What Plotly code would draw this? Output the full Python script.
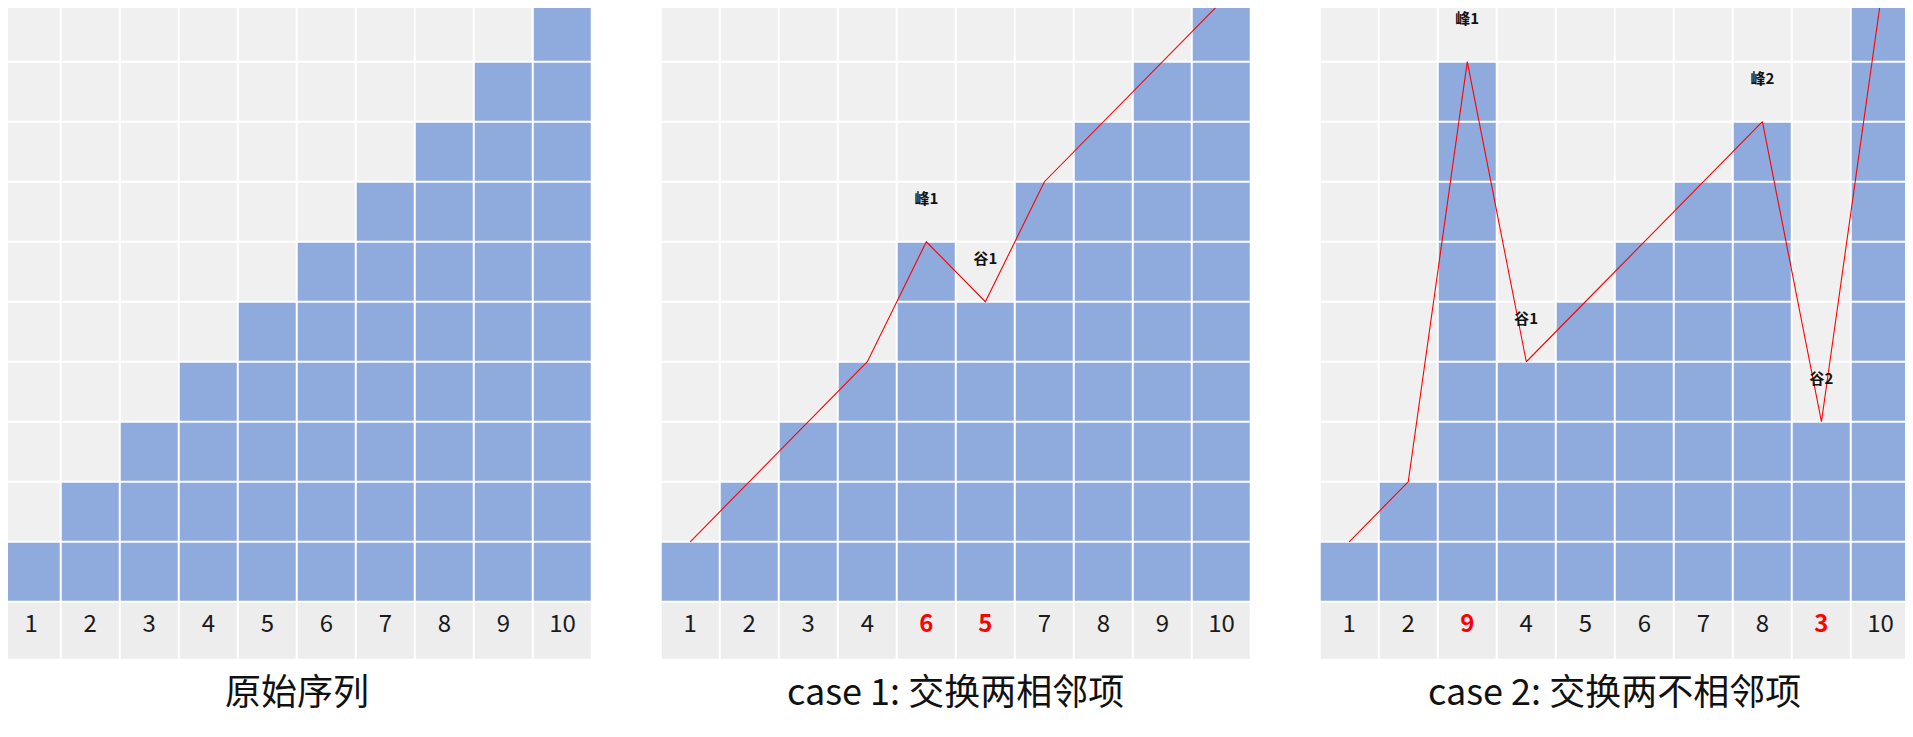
import plotly.graph_objects as go

# ---- data ----
columns = list(range(1, 11))
orig_values = [1, 2, 3, 4, 5, 6, 7, 8, 9, 10]
case1_values = [1, 2, 3, 4, 6, 5, 7, 8, 9, 10]
case2_values = [1, 2, 9, 4, 5, 6, 7, 8, 3, 10]
case1_swapped = [5, 6]          # column positions that were swapped
case2_swapped = [3, 9]
titles = ["原始序列", "case 1: 交换两相邻项", "case 2: 交换两不相邻项"]
case1_marks = ["峰1", "谷1"]
case1_mark_cols = [5, 6]
case2_marks = ["峰1", "谷1", "峰2", "谷2"]
case2_mark_cols = [3, 4, 8, 9]
n_rows = 10

BLUE = "#8FAADC"
GREY = "#F0F0F0"
LABEL = "#EDEDED"
FONT = "Noto Sans CJK SC"

PAGE_OFF = 8                     # browser body margin
W, H = 1913 - PAGE_OFF, 737 - PAGE_OFF
panel_left_px = [1.7, 660.7, 1319.7]   # page coordinates
panel_w_px = 590.3
top_px, bottom_px = 1.7, 660.0
label_h = 0.97
x_ppu = panel_w_px / 10.0
y_ppu = (bottom_px - top_px) / (n_rows + label_h)

fig = go.Figure()

panels = [
    (orig_values, [], False, [], []),
    (case1_values, case1_swapped, True, case1_marks, case1_mark_cols),
    (case2_values, case2_swapped, True, case2_marks, case2_mark_cols),
]

y_edges = [-label_h] + list(range(0, n_rows + 1))

t_fig = top_px - PAGE_OFF
y_top_range = n_rows
if t_fig < 0:
    y_top_range = n_rows + t_fig / y_ppu
    t_fig = 0
b_fig = bottom_px - PAGE_OFF

for i, (vals, swapped, draw_line, marks, mark_cols) in enumerate(panels):
    xa = "x" if i == 0 else f"x{i+1}"
    ya = "y" if i == 0 else f"y{i+1}"
    z = [[2] * len(columns)]
    for r in range(n_rows):
        z.append([1 if v > r else 0 for v in vals])
    fig.add_trace(go.Heatmap(
        x=columns, y=y_edges, z=z, zmin=0, zmax=2,
        colorscale=[[0, GREY], [0.5, GREY], [0.5, BLUE], [0.75, BLUE], [0.75, LABEL], [1, LABEL]],
        showscale=False, xgap=2, ygap=2, hoverinfo="skip",
        xaxis=xa, yaxis=ya,
    ))
    texts, colors = [], []
    for c, v in zip(columns, vals):
        if c in swapped:
            texts.append(f"<b>{v}</b>")
            colors.append("#FF0000")
        else:
            texts.append(str(v))
            colors.append("#1a1a1a")
    fig.add_trace(go.Scatter(
        x=columns, y=[-label_h / 2 + 0.08] * len(columns), mode="text",
        text=texts, textfont=dict(family=FONT, size=24, color=colors),
        hoverinfo="skip", showlegend=False, xaxis=xa, yaxis=ya,
    ))
    if draw_line:
        fig.add_trace(go.Scatter(
            x=columns, y=vals, mode="lines",
            line=dict(color="#FF0000", width=1.1),
            hoverinfo="skip", showlegend=False, xaxis=xa, yaxis=ya,
        ))
        fig.add_trace(go.Scatter(
            x=mark_cols, y=[vals[c - 1] + 0.69 for c in mark_cols], mode="text",
            text=[f"<b>{m}</b>" for m in marks],
            textfont=dict(family=FONT, size=15, color="#111111"),
            hoverinfo="skip", showlegend=False, xaxis=xa, yaxis=ya,
        ))
    l_fig = panel_left_px[i] - PAGE_OFF
    x_start = 0.5
    if l_fig < 0:
        x_start = 0.5 - l_fig / x_ppu
        l_fig = 0
    r_fig = panel_left_px[i] + panel_w_px - PAGE_OFF
    x0, x1 = l_fig / W, min(r_fig / W, 1.0)
    axis_common = dict(showgrid=False, zeroline=False, showticklabels=False,
                       showline=False, ticks="", fixedrange=True)
    fig.update_layout({
        ("xaxis" if i == 0 else f"xaxis{i+1}"): dict(
            domain=[x0, x1], range=[x_start, 10.5], anchor=ya, **axis_common),
        ("yaxis" if i == 0 else f"yaxis{i+1}"): dict(
            domain=[1 - b_fig / H, 1 - t_fig / H], range=[-label_h, y_top_range],
            anchor=xa, **axis_common),
    })
    cx = (panel_left_px[i] + panel_w_px / 2 - PAGE_OFF) / W
    fig.add_annotation(
        x=cx, y=1 - (689 - PAGE_OFF) / H, xref="paper", yref="paper",
        text=titles[i], showarrow=False,
        font=dict(family=FONT, size=36, color="#111111"),
        xanchor="center", yanchor="middle",
    )

fig.update_layout(
    width=W, height=H, margin=dict(l=0, r=0, t=0, b=0),
    paper_bgcolor="white", plot_bgcolor="white", showlegend=False,
)

fig.write_html("out.html")
